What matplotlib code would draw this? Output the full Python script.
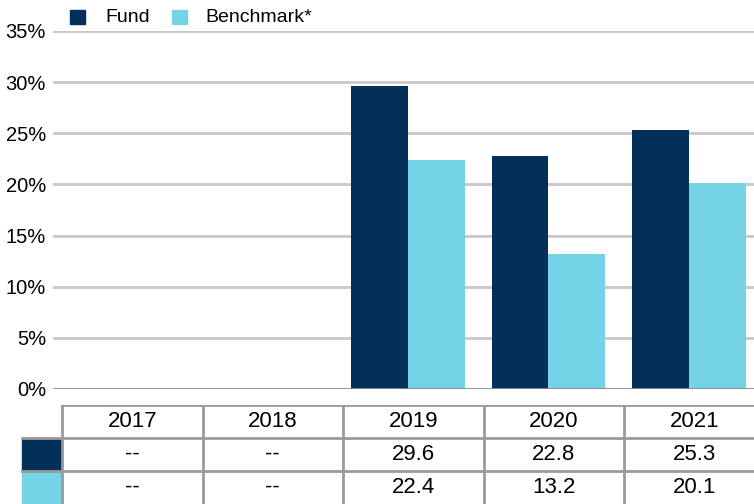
import numpy as np
from matplotlib import pyplot as plt
from matplotlib.patches import Rectangle

plt.rcParams['font.family'] = ['Liberation Sans', 'DejaVu Sans']

years = ['2017', '2018', '2019', '2020', '2021']
fund = [np.nan, np.nan, 29.6, 22.8, 25.3]
bench = [np.nan, np.nan, 22.4, 13.2, 20.1]
fund_labels = ['--', '--', '29.6', '22.8', '25.3']
bench_labels = ['--', '--', '22.4', '13.2', '20.1']
yticks = [0, 5, 10, 15, 20, 25, 30, 35]

c_fund = '#023059'
c_bench = '#75D3E6'
grid_c = '#c8c8c8'
W, H = 754, 504

fig = plt.figure(figsize=(7.54, 5.04), dpi=100)

# px -> data: category i spans [i, i+1], one category = 140.5 px, starts at x=62
cw = 140.5
x0 = 62

ax = fig.add_axes([53 / W, (H - 389) / H, (W - 53) / W, (389 - 31) / H])
ax.set_xlim((53 - x0) / cw, (W - x0) / cw)
ax.set_ylim(0, 35)
x = np.arange(len(years))
bw = 0.405
ax.bar(x + 0.057, fund, bw, align='edge', color=c_fund, zorder=3)
ax.bar(x + 0.057 + bw, bench, bw, align='edge', color=c_bench, zorder=3)
ax.set_yticks(yticks)
ax.set_yticklabels([f'{t}%' for t in yticks], fontsize=14.5)
ax.tick_params(axis='y', length=0, pad=5)
ax.set_xticks([])
for t in yticks[1:]:
    ax.axhline(t, color=grid_c, lw=2, zorder=1)
ax.axhline(0, color='#8c8c8c', lw=2, zorder=4)
for s in ax.spines.values():
    s.set_visible(False)

# legend
fig.patches.append(Rectangle((70 / W, (H - 24) / H), 15 / W, 14 / H,
                             transform=fig.transFigure, color=c_fund))
fig.text(105 / W, (H - 17) / H, 'Fund', fontsize=14, va='center')
fig.patches.append(Rectangle((172 / W, (H - 24) / H), 15 / W, 14 / H,
                             transform=fig.transFigure, color=c_bench))
fig.text(205 / W, (H - 17) / H, 'Benchmark*', fontsize=14, va='center')

# data table below
tax = fig.add_axes([0, 0, 1, (H - 405) / H])
tax.set_xlim(-x0 / cw, (W - x0) / cw)
tax.set_ylim(3, 0)
tax.axis('off')
lc = '#9a9a9a'
n = len(years)
tax.plot([0, n], [0, 0], color=lc, lw=2)
tax.plot([(22 - x0) / cw, n], [1, 1], color=lc, lw=2)
tax.plot([(22 - x0) / cw, n], [2, 2], color=lc, lw=2)
for i in range(n + 1):
    tax.plot([i, i], [0, 3], color=lc, lw=2)
tax.add_patch(Rectangle(((22 - x0) / cw, 1), (x0 - 22) / cw, 1, color=c_fund))
tax.add_patch(Rectangle(((22 - x0) / cw, 2), (x0 - 22) / cw, 1, color=c_bench))
for i in range(n):
    tax.text(i + 0.5, 0.5, years[i], ha='center', va='center', fontsize=16)
    tax.text(i + 0.5, 1.5, fund_labels[i], ha='center', va='center', fontsize=16)
    tax.text(i + 0.5, 2.5, bench_labels[i], ha='center', va='center', fontsize=16)

fig.savefig('out.png', dpi=100)
